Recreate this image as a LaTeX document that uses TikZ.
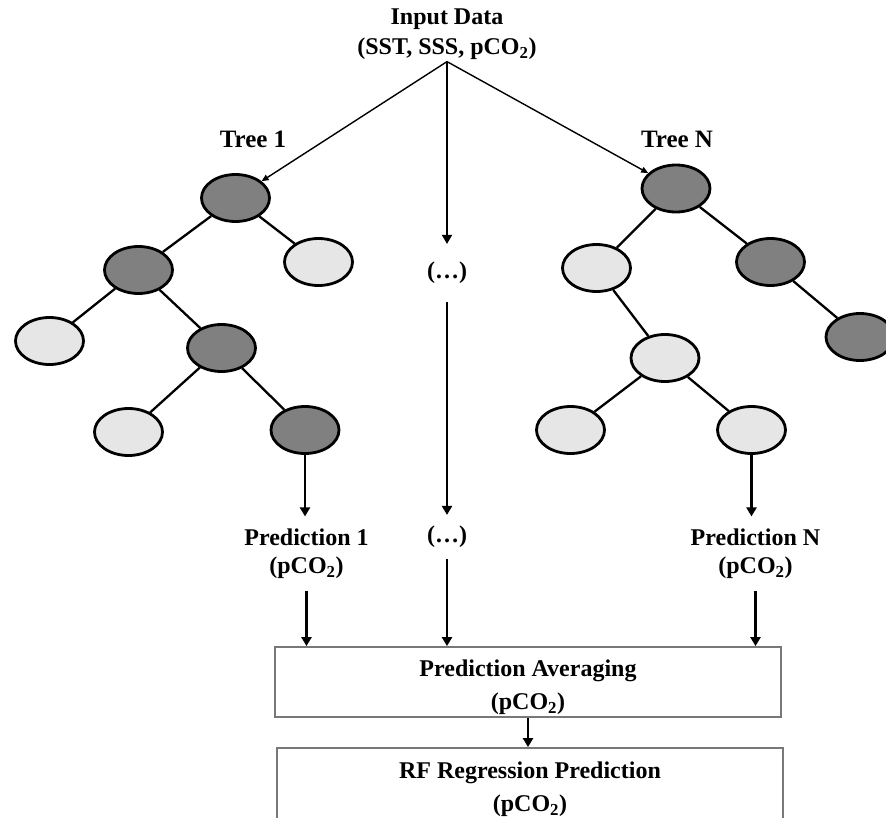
\documentclass[tikz,border=0pt]{standalone}
\usepackage{fontspec}
\setmainfont{Liberation Serif}
\usetikzlibrary{shapes.geometric,arrows.meta}
\definecolor{darkfill}{RGB}{128,128,128}
\definecolor{lightfill}{RGB}{230,230,230}
\definecolor{boxgray}{RGB}{120,120,120}
\begin{document}
\begin{tikzpicture}[x=1pt,y=-1pt,
  lbl/.style={font=\fontsize{24}{28}\selectfont\bfseries, align=center, inner sep=2pt},
  treelbl/.style={font=\fontsize{25}{30}\selectfont\bfseries, inner sep=2pt},
  dark/.style={ellipse, draw=black, line width=2.8pt, fill=darkfill,
    minimum width=68pt, minimum height=47pt, inner sep=0pt},
  light/.style={dark, fill=lightfill},
  edge/.style={line width=2.3pt},
  feed/.style={line width=1.4pt, -{Triangle[length=7pt,width=6pt]}},
  flow/.style={line width=2.4pt, -{Triangle[length=9pt,width=10pt]}},
  panel/.style={draw=boxgray, line width=1.8pt, rectangle, inner sep=0pt},
  paneltext/.style={font=\fontsize{24}{33}\selectfont\bfseries, align=center, inner sep=0pt}
]
\useasboundingbox (0,0) rectangle (886,817);

% input and tree titles
\node[lbl, font=\fontsize{24}{30}\selectfont\bfseries] (in) at (447,34)
  {Input Data\\(SST, SSS, pCO\textsubscript{2})};
\node[treelbl] (t1) at (253,139) {Tree 1};
\node[treelbl] (tN) at (677,139) {Tree N};

% tree 1
\node[dark]  (a1) at (235.5,198) {};
\node[dark]  (a2) at (138.5,270) {};
\node[light] (a3) at (318.5,262) {};
\node[light] (a4) at (49.5,341) {};
\node[dark]  (a5) at (221.5,348) {};
\node[light] (a6) at (128.5,432) {};
\node[dark]  (a7) at (305,430) {};

% tree N
\node[dark]  (b1) at (676,188.5) {};
\node[light] (b2) at (596.5,268) {};
\node[dark]  (b3) at (770.5,262) {};
\node[dark]  (b4) at (860,337) {};
\node[light] (b5) at (665,358) {};
\node[light] (b6) at (570.5,430) {};
\node[light] (b7) at (751.5,430) {};

\draw[edge] (a1) -- (a2) (a1) -- (a3) (a2) -- (a4) (a2) -- (a5)
            (a5) -- (a6) (a5) -- (a7);
\draw[edge] (b1) -- (b2) (b1) -- (b3) (b3) -- (b4) (b2) -- (b5)
            (b5) -- (b6) (b5) -- (b7);

% middle placeholders
\node[lbl, inner ysep=18pt] (d1) at (447,273) {(…)};
\node[lbl, inner ysep=11pt] (d2) at (447,537) {(…)};

% per-tree predictions
\node[lbl, inner ysep=12pt] (p1) at (306.5,553.5) {Prediction 1\\(pCO\textsubscript{2})};
\node[lbl, inner ysep=12pt] (pN) at (755.5,553.5) {Prediction N\\(pCO\textsubscript{2})};

% aggregation boxes
\node[panel, minimum width=506pt, minimum height=70pt] (avg) at (528,682) {};
\node[panel, minimum width=506pt, minimum height=74pt] (rf) at (530,785) {};
\node[paneltext] (avgtxt) at ([yshift=-5pt]avg.center)
  {Prediction Averaging\\(pCO\textsubscript{2})};
\node[paneltext] (rftxt) at ([yshift=-4pt]rf.center)
  {RF Regression Prediction\\(pCO\textsubscript{2})};

% connectors
\draw[feed] (in.south) -- (a1);
\draw[feed] (in.south) -- (b1);
\draw[flow, line width=1.8pt] (in.south) -- (d1.north);
\draw[flow] (d1.south) -- (d2.north);
\draw[flow] (a7.south) -- (a7.south |- p1.north);
\draw[flow] (b7.south) -- (b7.south |- pN.north);
\draw[flow] (p1.south) -- (p1.south |- avg.north);
\draw[flow] (d2.south) -- (d2.south |- avg.north);
\draw[flow] (pN.south) -- (pN.south |- avg.north);
\draw[flow] (avg.south) -- (avg.south |- rf.north);
\end{tikzpicture}
\end{document}
